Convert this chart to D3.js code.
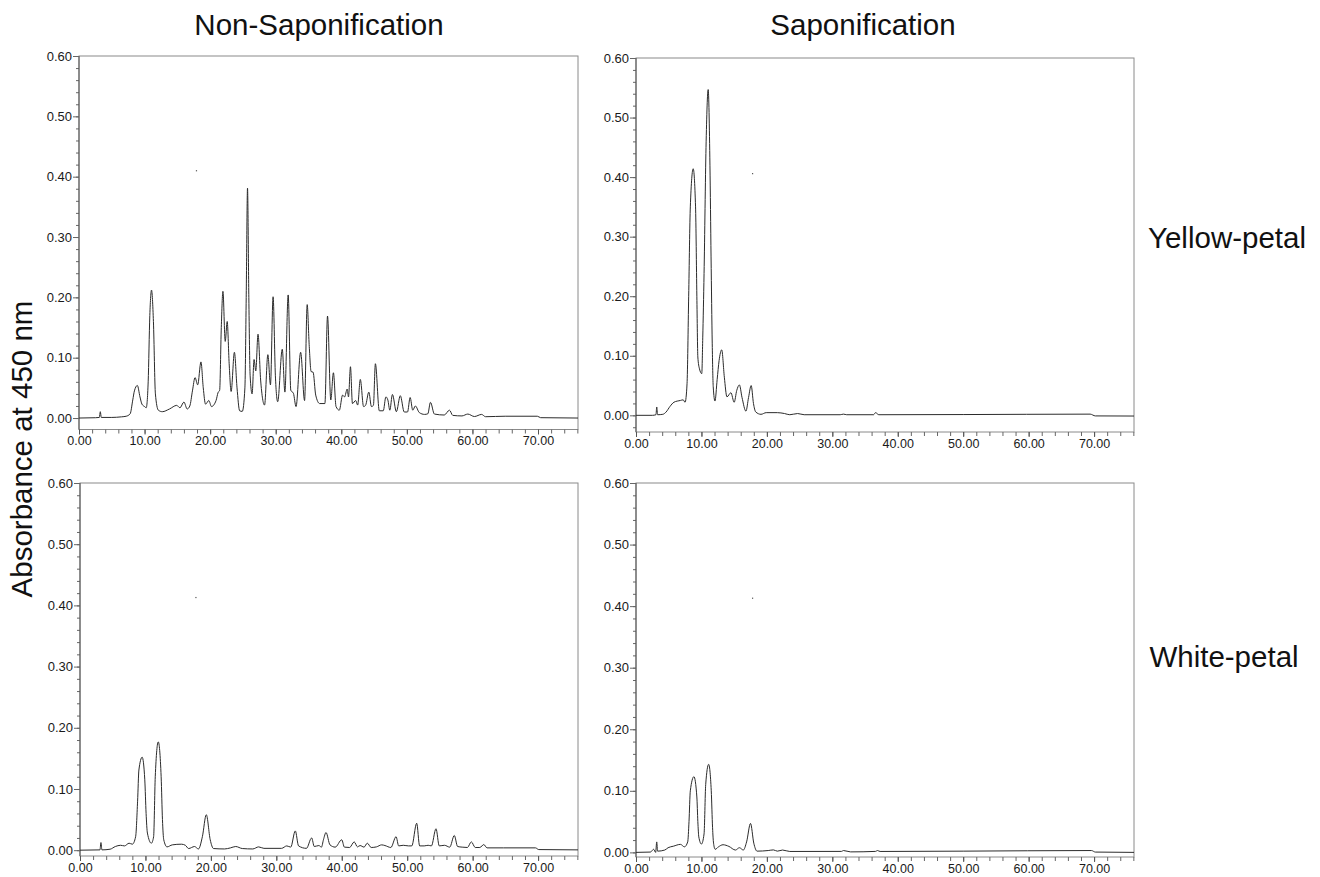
<!DOCTYPE html>
<html>
<head>
<meta charset="utf-8">
<script src="https://cdn.jsdelivr.net/npm/d3@7"></script>
<style>
  html, body { margin: 0; padding: 0; background: #fff; }
  svg { display: block; font-family: "Liberation Sans", Arial, sans-serif; }
</style>
</head>
<body>
<svg id="chart" width="1320" height="877"></svg>
<script>
// ---------- DATA (retention time in min, absorbance at 450 nm) ----------
const columnTitles = ["Non-Saponification", "Saponification"];
const rowTitles = ["Yellow-petal", "White-petal"];
const yAxisTitle = "Absorbance at 450 nm";

const xMajorTicks = [0, 10, 20, 30, 40, 50, 60, 70];
const yMajorTicks = [0, 0.1, 0.2, 0.3, 0.4, 0.5, 0.6];

const yellowNonSap = [[0,0],[2.5,0.0005],[3.1,0.001],[3.25,0.0105],[3.4,0.001],[5,0.001],[6.5,0.002],[7.2,0.003],[7.8,0.007],[8.2,0.03],[8.45,0.045],[8.9,0.054],[9.3,0.035],[9.6,0.023],[10.0,0.019],[10.25,0.017],[10.55,0.06],[10.8,0.17],[11.06,0.212],[11.35,0.16],[11.65,0.04],[12.1,0.013],[12.7,0.0105],[13.8,0.015],[14.9,0.021],[15.4,0.017],[16.0,0.0265],[16.5,0.015],[16.9,0.02],[17.3,0.045],[17.7,0.067],[18.1,0.055],[18.6,0.093],[18.95,0.05],[19.3,0.023],[19.8,0.029],[20.2,0.019],[20.9,0.029],[21.2,0.042],[21.45,0.046],[21.7,0.15],[21.95,0.21],[22.3,0.127],[22.6,0.16],[22.9,0.09],[23.2,0.044],[23.7,0.109],[24.1,0.05],[24.5,0.012],[24.9,0.011],[25.3,0.05],[25.5,0.2],[25.7,0.381],[25.9,0.2],[26.1,0.07],[26.4,0.040],[26.7,0.097],[26.96,0.078],[27.3,0.139],[27.7,0.063],[28.3,0.0215],[28.8,0.105],[29.2,0.055],[29.6,0.201],[29.95,0.07],[30.3,0.027],[31.0,0.114],[31.4,0.043],[31.9,0.204],[32.3,0.046],[32.7,0.041],[33.1,0.019],[33.8,0.109],[34.4,0.029],[34.8,0.188],[35.1,0.122],[35.4,0.077],[35.7,0.076],[36.1,0.038],[36.7,0.024],[37.5,0.024],[37.9,0.169],[38.4,0.030],[38.8,0.075],[39.2,0.019],[39.7,0.013],[40.2,0.038],[40.5,0.035],[40.9,0.048],[41.1,0.035],[41.4,0.085],[41.7,0.024],[42.2,0.029],[42.5,0.0215],[42.9,0.064],[43.4,0.019],[43.7,0.021],[44.2,0.043],[44.6,0.019],[44.9,0.021],[45.2,0.090],[45.8,0.012],[46.4,0.012],[46.8,0.035],[47.1,0.030],[47.4,0.013],[47.8,0.039],[48.4,0.0105],[49.0,0.037],[49.6,0.010],[50.1,0.010],[50.5,0.034],[50.9,0.013],[51.3,0.020],[51.9,0.009],[52.7,0.006],[53.2,0.007],[53.6,0.026],[54.2,0.0066],[55.7,0.005],[56.5,0.013],[57.0,0.0044],[58.4,0.0035],[59.3,0.0066],[60.3,0.0025],[61.4,0.006],[62.0,0.0022],[65,0.003],[69.9,0.003],[70.4,0.0006],[76.1,0]];

const yellowSap = [[0,0],[2.5,0],[3.05,0.001],[3.17,0.014],[3.3,0.001],[4.1,0.0017],[4.6,0.0056],[5.2,0.015],[5.8,0.022],[6.8,0.025],[7.2,0.026],[7.5,0.022],[7.8,0.053],[8.05,0.2],[8.3,0.35],[8.74,0.414],[9.1,0.35],[9.3,0.2],[9.45,0.098],[9.7,0.078],[10.05,0.07],[10.2,0.13],[10.4,0.238],[10.7,0.45],[11.03,0.547],[11.3,0.42],[11.47,0.266],[11.65,0.12],[11.8,0.048],[12.07,0.024],[12.4,0.06],[12.7,0.092],[13.1,0.110],[13.5,0.064],[13.9,0.031],[14.5,0.038],[15.0,0.022],[15.4,0.042],[15.8,0.051],[16.2,0.03],[16.8,0.007],[17.2,0.03],[17.6,0.050],[17.95,0.02],[18.3,0.0056],[19.1,0.0017],[19.9,0.0045],[21.6,0.0045],[22.7,0.003],[23.5,0.001],[24.7,0.003],[25.7,0.001],[31.2,0.001],[31.7,0.002],[32.2,0.001],[36.3,0.001],[36.6,0.0045],[37.1,0.001],[50,0.0013],[69.4,0.002],[70.2,-0.001],[76.1,-0.0012]];

const whiteNonSap = [[0,0],[3.05,0.0005],[3.2,0.0125],[3.35,0.0005],[4.6,0.0016],[5.4,0.006],[6.2,0.008],[6.8,0.007],[7.5,0.0114],[8.0,0.0098],[8.5,0.022],[8.8,0.08],[9.0,0.131],[9.5,0.152],[9.9,0.115],[10.1,0.06],[10.3,0.028],[10.9,0.0114],[11.25,0.022],[11.5,0.12],[11.96,0.177],[12.4,0.12],[12.6,0.05],[12.8,0.017],[13.3,0.0054],[14.1,0.0087],[15.5,0.0098],[16.1,0.008],[16.6,0.0027],[17.5,0.006],[18.1,0.002],[18.7,0.022],[19.3,0.058],[19.9,0.017],[20.4,0.0027],[22.1,0.002],[23.0,0.0038],[23.8,0.006],[24.8,0.0027],[26.4,0.002],[27.3,0.0054],[28.1,0.003],[30.8,0.003],[31.6,0.007],[32.2,0.005],[32.9,0.0315],[33.4,0.007],[34.6,0.003],[35.4,0.02],[35.8,0.006],[36.5,0.0076],[36.9,0.005],[37.2,0.017],[37.6,0.0288],[38.2,0.0087],[39.0,0.005],[40.0,0.017],[40.4,0.005],[41.2,0.0044],[41.9,0.0136],[42.4,0.0054],[42.8,0.0076],[43.4,0.005],[43.9,0.0114],[44.5,0.0044],[45.3,0.0054],[46.1,0.0087],[46.6,0.0076],[47.5,0.0044],[48.3,0.022],[48.7,0.007],[49.4,0.008],[50.2,0.007],[50.7,0.007],[51.45,0.044],[51.9,0.007],[52.6,0.007],[53.2,0.008],[53.7,0.007],[54.4,0.035],[54.9,0.007],[55.7,0.008],[56.5,0.005],[57.2,0.024],[57.7,0.006],[58.4,0.005],[59.2,0.0044],[59.8,0.0136],[60.4,0.0044],[61.1,0.0044],[61.7,0.0092],[62.2,0.0038],[64.7,0.0038],[69.6,0.0038],[70.1,0.001],[76.1,0.0005]];

const whiteSap = [[0,0],[2.2,0.0005],[2.7,0.005],[3.0,0],[3.17,0.017],[3.3,0.002],[4.4,0.0038],[4.9,0.0076],[5.7,0.010],[6.8,0.013],[7.4,0.009],[7.9,0.017],[8.1,0.05],[8.3,0.10],[8.85,0.123],[9.3,0.09],[9.45,0.05],[9.6,0.025],[10.0,0.0135],[10.4,0.03],[10.65,0.11],[11.1,0.143],[11.5,0.10],[11.7,0.04],[11.85,0.015],[12.1,0.005],[12.6,0.009],[13.3,0.0124],[14.2,0.0097],[15.2,0.0038],[15.8,0.0076],[16.4,0.0038],[16.9,0.017],[17.5,0.047],[18.0,0.015],[18.5,0.002],[20.2,0.003],[21.0,0.004],[21.6,0.002],[22.4,0.0038],[23.5,0.0015],[31.4,0.0016],[31.7,0.003],[32.8,0.0008],[36.6,0.0016],[36.9,0.003],[37.3,0.0015],[50,0.002],[69.6,0.003],[70.2,0.0005],[76.1,0]];

// small stray marks printed in each chromatogram
const strayMarks = [[17.9, 0.41], [17.8, 0.406], [17.7, 0.413], [17.8, 0.413]];

// ---------- LAYOUT ----------
const panels = [
  { data: yellowNonSap, left: 79,  right: 578,  top: 56,  bottom: 429.5, yMin: -0.019 },
  { data: yellowSap,    left: 636, right: 1134, top: 58,  bottom: 432,   yMin: -0.028 },
  { data: whiteNonSap,  left: 80,  right: 578,  top: 483, bottom: 856,   yMin: -0.0095 },
  { data: whiteSap,     left: 636, right: 1134, top: 483, bottom: 857,   yMin: -0.0075 }
];
const xMax = 76.1, yMax = 0.6;

const svg = d3.select("#chart");
const fmt = d3.format(".2f");

panels.forEach((p, i) => {
  const x = d3.scaleLinear().domain([0, xMax]).range([p.left, p.right]);
  const y = d3.scaleLinear().domain([p.yMin, yMax]).range([p.bottom, p.top]);
  const g = svg.append("g");

  // frame
  g.append("rect")
    .attr("x", p.left).attr("y", p.top)
    .attr("width", p.right - p.left).attr("height", p.bottom - p.top)
    .attr("fill", "none").attr("stroke", "#8a8a8a").attr("stroke-width", 1);

  // y minor ticks
  const yMinor = d3.range(-0.02, 0.6001, 0.02).filter(v => v >= p.yMin - 1e-9);
  g.append("g").attr("transform", `translate(${p.left},0)`)
    .call(d3.axisLeft(y).tickValues(yMinor).tickSize(3).tickFormat(""))
    .call(a => a.select(".domain").remove())
    .call(a => a.selectAll("line").attr("stroke", "#666"));

  // y major ticks + labels
  g.append("g").attr("transform", `translate(${p.left},0)`)
    .call(d3.axisLeft(y).tickValues(yMajorTicks).tickSize(6).tickPadding(1).tickFormat(fmt))
    .call(a => a.select(".domain").attr("stroke", "#555").attr("d", `M0,${p.top}V${p.bottom}`))
    .call(a => a.selectAll("line").attr("stroke", "#666"))
    .call(a => a.selectAll("text").attr("font-size", 13).attr("fill", "#1a1a1a")
      .attr("font-family", "'Liberation Sans', Arial, sans-serif"));

  // x minor ticks
  const xMinor = d3.range(0, xMax, 2);
  g.append("g").attr("transform", `translate(0,${p.bottom})`)
    .call(d3.axisBottom(x).tickValues(xMinor).tickSize(4).tickFormat(""))
    .call(a => a.select(".domain").remove())
    .call(a => a.selectAll("line").attr("stroke", "#666"));

  // x major ticks + labels
  g.append("g").attr("transform", `translate(0,${p.bottom})`)
    .call(d3.axisBottom(x).tickValues(xMajorTicks).tickSize(5).tickPadding(2).tickFormat(fmt))
    .call(a => a.select(".domain").remove())
    .call(a => a.selectAll("line").attr("stroke", "#555"))
    .call(a => a.selectAll("text").attr("font-size", 12.5).attr("fill", "#1a1a1a")
      .attr("font-family", "'Liberation Sans', Arial, sans-serif"));

  // chromatogram trace
  const line = d3.line().x(d => x(d[0])).y(d => y(d[1])).curve(d3.curveMonotoneX);
  g.append("path").datum(p.data)
    .attr("d", line)
    .attr("fill", "none").attr("stroke", "#2b2b2b").attr("stroke-width", 1)
    .attr("stroke-linejoin", "round");

  // stray mark
  const s = strayMarks[i];
  g.append("rect").attr("x", x(s[0]) - 0.5).attr("y", y(s[1]) - 0.5)
    .attr("width", 1.2).attr("height", 1.2).attr("fill", "#555");
});

// column titles
const colCenters = [319, 863];
columnTitles.forEach((t, i) => {
  svg.append("text").attr("x", colCenters[i]).attr("y", 35)
    .attr("text-anchor", "middle").attr("font-size", 29.5).attr("fill", "#111").text(t);
});

// row titles
const rowCenters = [[1227, 248], [1224, 667]];
rowTitles.forEach((t, i) => {
  svg.append("text").attr("x", rowCenters[i][0]).attr("y", rowCenters[i][1])
    .attr("text-anchor", "middle").attr("font-size", 29.5).attr("fill", "#111").text(t);
});

// y-axis title
svg.append("text")
  .attr("transform", "translate(32,449) rotate(-90)")
  .attr("text-anchor", "middle").attr("font-size", 29.5).attr("fill", "#111")
  .text(yAxisTitle);
</script>
</body>
</html>
